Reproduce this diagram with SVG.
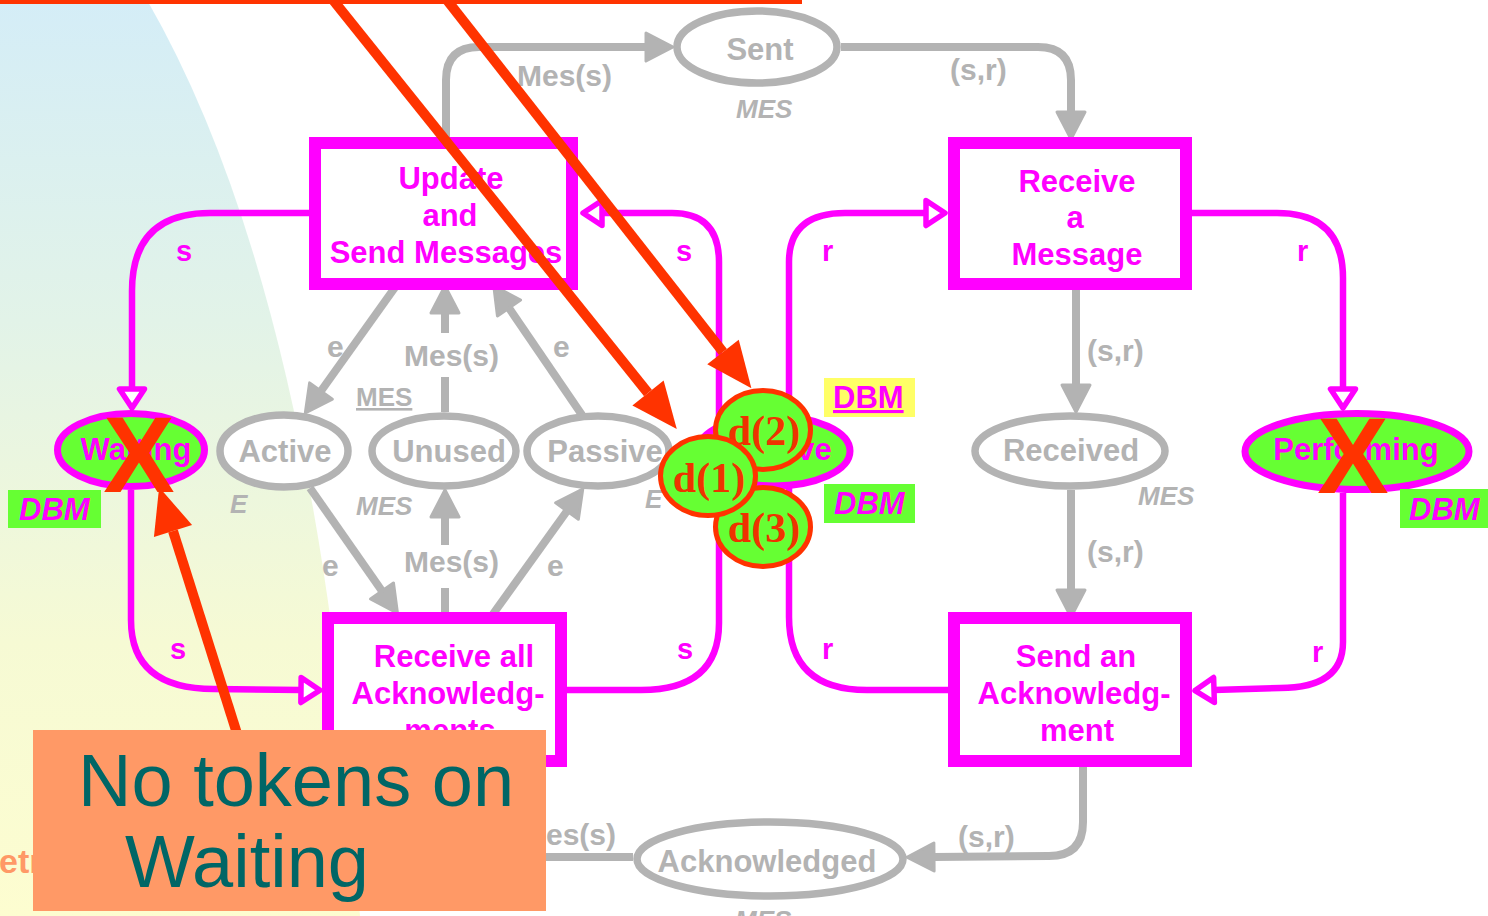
<svg xmlns="http://www.w3.org/2000/svg" width="1488" height="916" viewBox="0 0 1488 916">
  <defs>
    <linearGradient id="bgFade" x1="0" y1="0" x2="0" y2="1">
      <stop offset="0" stop-color="#d4edf7"/>
      <stop offset="0.35" stop-color="#e2f3e8"/>
      <stop offset="0.7" stop-color="#f6fad4"/>
      <stop offset="1" stop-color="#fdfdd0"/>
    </linearGradient>
    <!-- filled grey arrowhead, drawn forward from the end of the path -->
    <marker id="greyHead" viewBox="0 -16 30 32" refX="0" refY="0" markerWidth="30" markerHeight="32" markerUnits="userSpaceOnUse" orient="auto" overflow="visible">
      <path d="M0,-14 L27,0 L0,14 Z" fill="#b3b3b3" stroke="#b3b3b3" stroke-width="3" stroke-linejoin="round"/>
    </marker>
    <!-- open (hollow) magenta arrowhead -->
    <marker id="openHead" viewBox="0 -16 24 32" refX="0" refY="0" markerWidth="24" markerHeight="32" markerUnits="userSpaceOnUse" orient="auto" overflow="visible">
      <path d="M0,-12.5 L19,0 L0,12.5 Z" fill="#ffffff" stroke="#ff00ff" stroke-width="5.5" stroke-linejoin="round"/>
    </marker>
    <!-- red pointer arrowhead -->
    <marker id="redHead" viewBox="0 -20 46 40" refX="0" refY="0" markerWidth="46" markerHeight="40" markerUnits="userSpaceOnUse" orient="auto" overflow="visible">
      <path d="M0,-20 L46,0 L0,20 Z" fill="#ff3300"/>
    </marker>
  </defs>
  <style>
    text { font-family: "Liberation Sans", Arial, sans-serif; font-weight: bold; }
    .grey { fill: #b3b3b3; font-size: 31px; }
    .lbl { fill: #b3b3b3; font-size: 30px; }
    .type { fill: #b3b3b3; font-size: 26px; font-style: italic; }
    .mag { fill: #ff00ff; font-size: 31px; }
    .arc-label { fill: #ff00ff; font-size: 29px; }
    .dbm { fill: #ff00ff; font-size: 31px; font-style: italic; }
    .mid { text-anchor: middle; }
    .trans { fill: #ffffff; stroke: #ff00ff; stroke-width: 12; }
    .place { fill: #ffffff; stroke: #b3b3b3; stroke-width: 7.5; }
    .dbm-place { fill: #66ff33; stroke: #ff00ff; stroke-width: 7; }
    .garc { fill: none; stroke: #b3b3b3; stroke-width: 8; marker-end: url(#greyHead); }
    .garc-plain { fill: none; stroke: #b3b3b3; stroke-width: 8; }
    .marc { fill: none; stroke: #ff00ff; stroke-width: 6.5; marker-end: url(#openHead); }
    .token { fill: #66ff33; stroke: #ff3300; stroke-width: 5; }
    .token-txt { font-family: "Liberation Serif", "Times New Roman", serif; font-weight: bold; font-size: 42px; fill: #ee3300; text-anchor: middle; }
    .cross { fill: #ff3300; font-size: 107px; text-anchor: middle; }
    .pointer { fill: none; stroke: #ff3300; stroke-width: 10; marker-end: url(#redHead); }
  </style>

  <!-- backdrop -->
  <rect x="0" y="0" width="1488" height="916" fill="#ffffff"/>
  <path d="M0,0 L147,0 Q320,300 360,916 L0,916 Z" fill="url(#bgFade)"/>
  <text x="-1" y="873" style="fill:#ff9966;font-size:34px">etr</text>
  <rect x="0" y="0" width="802" height="4" fill="#ff3300"/>

  <!-- connectors -->
  <g id="connectors">
    <!-- grey message arcs -->
    <path class="garc" d="M446,137 L446,80 Q446,47 479,47 L646,47"/>
    <path class="garc" d="M841,47 L1038,47 Q1071,47 1071,80 L1071,112"/>
    <path class="garc" d="M396,286 L321,391"/>
    <path class="garc" d="M445,412 L445,377 M445,333 L445,313"/>
    <path class="garc" d="M582,415 L509,308"/>
    <path class="garc" d="M310,488 L382,591"/>
    <path class="garc" d="M445,612 L445,588 M445,545 L445,517"/>
    <path class="garc" d="M493,614 L567,511"/>
    <path class="garc" d="M1076,290 L1076,385"/>
    <path class="garc" d="M1071,490 L1071,590"/>
    <path class="garc" d="M1083,767 L1083,822 Q1083,856 1049,856 L934,857"/>
    <path class="garc-plain" d="M633,857 L480,857"/>
    <!-- magenta state arcs -->
    <path class="marc" d="M309,213 L210,213 Q132,213 132,291 L132,389"/>
    <path class="marc" d="M131,490 L131,620 Q131,689 214,689 L301,690"/>
    <path class="marc" d="M567,690 L641,690 Q719,690 719,623 L719,262 Q719,213 672,213 L602,213"/>
    <path class="marc" d="M948,690 L867,690 Q789,690 789,617 L789,262 Q789,213 845,213 L926,213"/>
    <path class="marc" d="M1192,213 L1277,213 Q1343,213 1343,278 L1343,389"/>
    <path class="marc" d="M1343,493 L1343,642 Q1343,688 1280,688 L1214,690"/>
  </g>

  <!-- arc labels -->
  <g id="arc-labels">
    <text class="lbl" x="517" y="86">Mes(s)</text>
    <text class="lbl" x="950" y="80">(s,r)</text>
    <text class="lbl" x="327" y="357">e</text>
    <text class="lbl" x="404" y="366">Mes(s)</text>
    <text class="lbl" x="553" y="357">e</text>
    <text class="lbl" x="322" y="576">e</text>
    <text class="lbl" x="404" y="572">Mes(s)</text>
    <text class="lbl" x="547" y="576">e</text>
    <text class="lbl" x="1087" y="361">(s,r)</text>
    <text class="lbl" x="1087" y="562">(s,r)</text>
    <text class="lbl" x="958" y="847">(s,r)</text>
    <text class="lbl" x="521" y="845">Mes(s)</text>
    <text class="arc-label" x="176" y="261">s</text>
    <text class="arc-label" x="676" y="261">s</text>
    <text class="arc-label" x="822" y="261">r</text>
    <text class="arc-label" x="1297" y="261">r</text>
    <text class="arc-label" x="170" y="659">s</text>
    <text class="arc-label" x="677" y="659">s</text>
    <text class="arc-label" x="822" y="659">r</text>
    <text class="arc-label" x="1312" y="662">r</text>
  </g>

  <!-- transitions -->
  <g id="update-send">
    <rect class="trans" x="315" y="143" width="257" height="141"/>
    <text class="mag mid" x="451" y="189">Update</text>
    <text class="mag mid" x="450" y="226">and</text>
    <text class="mag mid" x="446" y="263">Send Messages</text>
  </g>
  <g id="receive-message">
    <rect class="trans" x="954" y="143" width="232" height="141"/>
    <text class="mag mid" x="1077" y="192">Receive</text>
    <text class="mag mid" x="1075" y="228">a</text>
    <text class="mag mid" x="1077" y="265">Message</text>
  </g>
  <g id="receive-acks">
    <rect class="trans" x="328" y="618" width="233" height="143"/>
    <text class="mag mid" x="454" y="667">Receive all</text>
    <text class="mag mid" x="448" y="704">Acknowledg-</text>
    <text class="mag mid" x="450" y="741">ments</text>
  </g>
  <g id="send-ack">
    <rect class="trans" x="954" y="618" width="232" height="143"/>
    <text class="mag mid" x="1076" y="667">Send an</text>
    <text class="mag mid" x="1074" y="704">Acknowledg-</text>
    <text class="mag mid" x="1077" y="741">ment</text>
  </g>

  <!-- places -->
  <g id="sent">
    <ellipse class="place" cx="757" cy="47" rx="80" ry="36"/>
    <text class="grey mid" x="760" y="60">Sent</text>
    <text class="type" x="736" y="118">MES</text>
  </g>
  <g id="active">
    <ellipse class="place" cx="284" cy="451" rx="64" ry="36"/>
    <text class="grey mid" x="285" y="462">Active</text>
    <text class="type" x="230" y="513">E</text>
  </g>
  <g id="unused">
    <ellipse class="place" cx="444" cy="451" rx="72" ry="35"/>
    <text class="grey mid" x="449" y="462">Unused</text>
    <text x="356" y="406" style="fill:#b3b3b3;font-size:26px;text-decoration:underline">MES</text>
    <text class="type" x="356" y="515">MES</text>
  </g>
  <g id="passive">
    <ellipse class="place" cx="598" cy="451" rx="71" ry="35"/>
    <text class="grey mid" x="605" y="462">Passive</text>
    <text class="type" x="645" y="508">E</text>
  </g>
  <g id="received">
    <ellipse class="place" cx="1070" cy="451" rx="95" ry="35"/>
    <text class="grey mid" x="1071" y="461">Received</text>
    <text class="type" x="1138" y="505">MES</text>
  </g>
  <g id="acknowledged">
    <ellipse class="place" cx="770" cy="859" rx="133" ry="37"/>
    <text class="grey mid" x="767" y="872">Acknowledged</text>
    <text class="type" x="735" y="929">MES</text>
  </g>
  <g id="waiting">
    <ellipse class="dbm-place" cx="131" cy="450" rx="73.5" ry="36.5"/>
    <text class="mag mid" x="136" y="460">Waiting</text>
    <rect x="8" y="490" width="93" height="38" fill="#66ff33"/>
    <text class="dbm" x="19" y="520">DBM</text>
  </g>
  <g id="inactive">
    <ellipse class="dbm-place" cx="774" cy="451" rx="76" ry="35"/>
    <text class="mag mid" x="774" y="460">Inactive</text>
    <rect x="824" y="378" width="91" height="39" fill="#ffff66"/>
    <text x="833" y="408" style="fill:#ff00ff;font-size:31px;text-decoration:underline">DBM</text>
    <rect x="824" y="484" width="91" height="39" fill="#66ff33"/>
    <text class="dbm" x="834" y="514">DBM</text>
  </g>
  <g id="performing">
    <ellipse class="dbm-place" cx="1357" cy="451.5" rx="112" ry="38"/>
    <text class="mag mid" x="1356" y="460">Performing</text>
    <rect x="1400" y="489" width="88" height="39" fill="#66ff33"/>
    <text class="dbm" x="1409" y="520">DBM</text>
  </g>

  <!-- tokens on Inactive -->
  <g id="tokens">
    <ellipse class="token" cx="763" cy="430" rx="47.5" ry="39.5"/>
    <text class="token-txt" x="764" y="445">d(2)</text>
    <ellipse class="token" cx="763" cy="527" rx="47.5" ry="39.5"/>
    <text class="token-txt" x="764" y="542">d(3)</text>
    <ellipse class="token" cx="708" cy="476" rx="47.5" ry="39.5"/>
    <text class="token-txt" x="709" y="492">d(1)</text>
  </g>

  <!-- crossed-out places -->
  <g id="crosses">
    <text class="cross" x="139" y="492">X</text>
    <text class="cross" x="1353" y="493">X</text>
  </g>

  <!-- red pointers -->
  <g id="pointers">
    <path class="pointer" d="M329,-5 L648,393"/>
    <path class="pointer" d="M443,-5 L723,352"/>
    <path class="pointer" d="M246,762 L173,531"/>
  </g>

  <!-- callout -->
  <g id="callout">
    <rect x="33" y="730" width="513" height="181" fill="#ff9966"/>
    <text x="78" y="806" style="fill:#006666;font-weight:normal;font-size:74px">No tokens on</text>
    <text x="125" y="887" style="fill:#006666;font-weight:normal;font-size:74px">Waiting</text>
  </g>
</svg>
